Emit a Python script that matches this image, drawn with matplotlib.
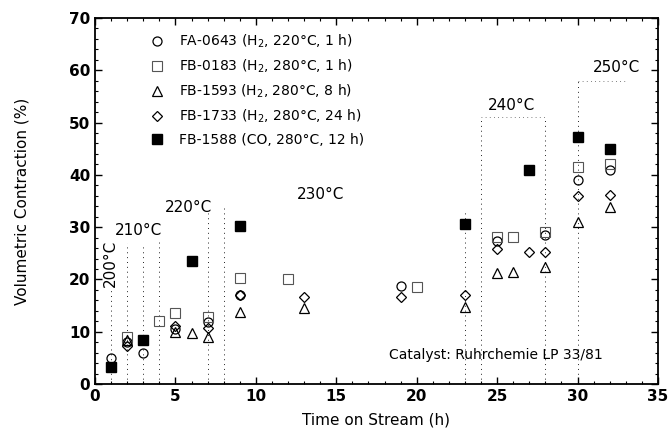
import matplotlib
matplotlib.use("Agg")
import matplotlib.pyplot as plt
from matplotlib.ticker import MultipleLocator

# ---- data ----
fa0643_x = [1, 2, 3, 5, 7, 9, 19, 25, 28, 30, 32]
fa0643_y = [5.0, 8.0, 6.0, 10.5, 11.9, 17.0, 18.7, 27.3, 28.5, 39.0, 41.0]

fb0183_x = [2, 4, 5, 7, 9, 12, 20, 25, 26, 28, 30, 32]
fb0183_y = [9.0, 12.1, 13.6, 12.9, 20.3, 20.1, 18.6, 28.2, 28.2, 29.1, 41.5, 42.0]

fb1593_x = [2, 5, 6, 7, 9, 13, 23, 25, 26, 28, 30, 32]
fb1593_y = [8.5, 10.0, 9.7, 9.0, 13.8, 14.5, 14.8, 21.2, 21.5, 22.3, 31.0, 33.8]

fb1733_x = [2, 5, 7, 9, 13, 19, 23, 25, 27, 28, 30, 32]
fb1733_y = [7.3, 11.0, 10.7, 17.0, 16.7, 16.6, 17.0, 25.8, 25.3, 25.3, 36.0, 36.1]

fb1588_x = [1, 3, 6, 9, 23, 27, 30, 32]
fb1588_y = [3.3, 8.4, 23.6, 30.3, 30.6, 40.9, 47.2, 45.0]

labels = [
    "FA-0643 (H$_2$, 220°C, 1 h)",
    "FB-0183 (H$_2$, 280°C, 1 h)",
    "FB-1593 (H$_2$, 280°C, 8 h)",
    "FB-1733 (H$_2$, 280°C, 24 h)",
    "FB-1588 (CO, 280°C, 12 h)",
]

# temperature-change markers (vertical dotted lines: x, top value)
vline_x = [1, 2, 3, 4, 7, 8, 23, 24, 28, 30]
vline_top = [18, 27, 26.4, 27.7, 32.7, 34.2, 33, 51, 51, 58]
hline_y = [51, 58]
hline_x0 = [24, 30]
hline_x1 = [28, 33]

temp_labels = ["200°C", "210°C", "220°C", "230°C", "240°C", "250°C"]
temp_x = [0.95, 2.7, 5.8, 14.0, 25.9, 32.4]
temp_y = [23.1, 29.3, 33.8, 36.3, 53.3, 60.6]
temp_rot = [90, 0, 0, 0, 0, 0]

fig = plt.figure(figsize=(6.71, 4.38), dpi=100)
ax = fig.add_axes([0.1416, 0.1233, 0.8390, 0.8356])

dot = (0, (1, 4))
for xv, top in zip(vline_x, vline_top):
    ax.plot([xv, xv], [0, top], color="#222222", lw=0.7, ls=dot, zorder=1)
for yv, a, b in zip(hline_y, hline_x0, hline_x1):
    ax.plot([a, b], [yv, yv], color="#555555", lw=0.6, ls=dot, zorder=1)

ms = 6.5
ax.plot(fa0643_x, fa0643_y, ls="none", marker="o", ms=ms, mfc="none", mec="black", mew=0.9, label=labels[0], zorder=3)
ax.plot(fb0183_x, fb0183_y, ls="none", marker="s", ms=ms, mfc="none", mec="#555555", mew=0.8, label=labels[1], zorder=3)
ax.plot(fb1593_x, fb1593_y, ls="none", marker="^", ms=ms, mfc="none", mec="black", mew=0.9, label=labels[2], zorder=3)
ax.plot(fb1733_x, fb1733_y, ls="none", marker="D", ms=ms - 1.5, mfc="none", mec="black", mew=0.9, label=labels[3], zorder=3)
ax.plot(fb1588_x, fb1588_y, ls="none", marker="s", ms=ms + 1, mfc="black", mec="black", label=labels[4], zorder=4)

for t, xv, yv, r in zip(temp_labels, temp_x, temp_y, temp_rot):
    ax.text(xv, yv, t, rotation=r, ha="center", va="center", fontsize=11)

ax.text(24.9, 5.6, "Catalyst: Ruhrchemie LP 33/81", ha="center", va="center", fontsize=10)

leg = ax.legend(loc="upper left", bbox_to_anchor=(0.075, 0.975), frameon=False,
                fontsize=10, handletextpad=0.6, labelspacing=0.55, borderaxespad=0)

ax.set_xlim(0, 35)
ax.set_ylim(0, 70)
ax.xaxis.set_major_locator(MultipleLocator(5))
ax.xaxis.set_minor_locator(MultipleLocator(1))
ax.yaxis.set_major_locator(MultipleLocator(10))
ax.yaxis.set_minor_locator(MultipleLocator(2))
ax.tick_params(which="both", direction="in", top=True, right=True)
ax.tick_params(which="major", length=5, width=1, labelsize=11)
ax.tick_params(which="minor", length=2.5, width=0.8)
for lab in ax.get_xticklabels() + ax.get_yticklabels():
    lab.set_fontweight("bold")
for s in ax.spines.values():
    s.set_linewidth(1.3)

ax.set_xlabel("Time on Stream (h)", fontsize=11, labelpad=6)
ax.set_ylabel("Volumetric Contraction (%)", fontsize=11, labelpad=28)

fig.savefig("out.png", dpi=100)
